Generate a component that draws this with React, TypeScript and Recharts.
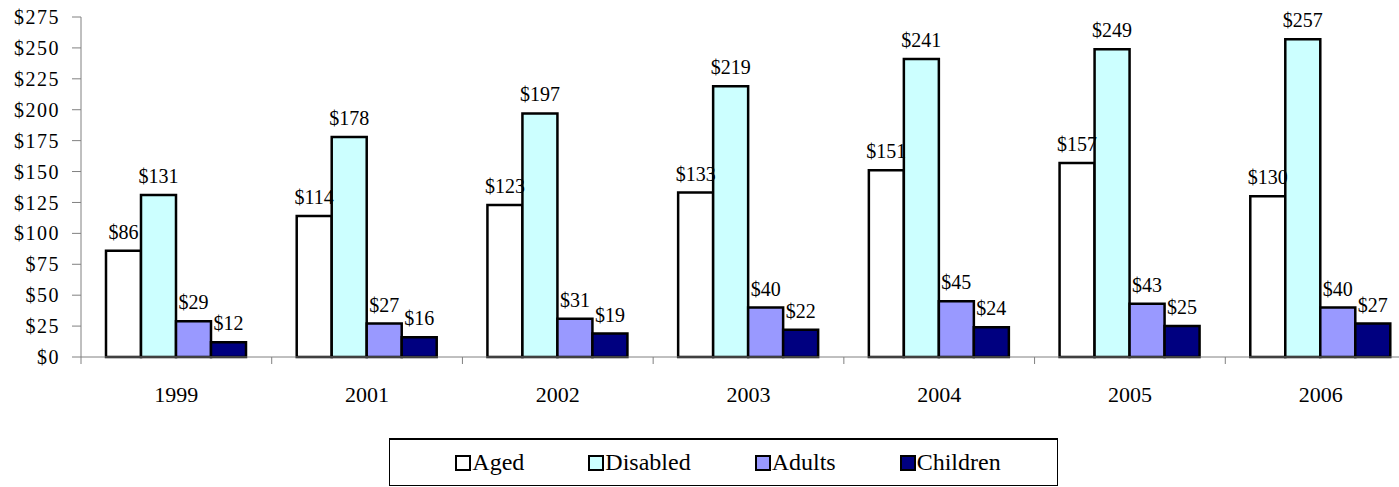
import { BarChart, Bar, XAxis, YAxis, Legend, LabelList } from "recharts";

const years = ["1999", "2001", "2002", "2003", "2004", "2005", "2006"];
const aged = [86, 114, 123, 133, 151, 157, 130];
const disabled = [131, 178, 197, 219, 241, 249, 257];
const adults = [29, 27, 31, 40, 45, 43, 40];
const children = [12, 16, 19, 22, 24, 25, 27];
const yTicks = [0, 25, 50, 75, 100, 125, 150, 175, 200, 225, 250, 275];

const series = [
  { key: "aged", name: "Aged", fill: "#ffffff" },
  { key: "disabled", name: "Disabled", fill: "#ccffff" },
  { key: "adults", name: "Adults", fill: "#9999ff" },
  { key: "children", name: "Children", fill: "#000080" },
];

const data = years.map((year, i) => ({
  year,
  aged: aged[i],
  disabled: disabled[i],
  adults: adults[i],
  children: children[i],
}));

const W = 1416;
const H = 487;
const margin = { top: 17, right: 0, bottom: 70, left: 0 };
const Y_W = 81;
const X_H = 60;
const step = (W - margin.left - margin.right - Y_W) / years.length;
const serif = '"Liberation Serif", "Times New Roman", serif';
const money = (v: any) => `$${v}`;

// year label in the middle, tick mark on the left edge of each category
function YearTick(props: any) {
  const { x, y, payload } = props;
  const bx = x - step / 2;
  return (
    <g>
      <line x1={bx} y1={y - 7} x2={bx} y2={y} stroke="#808080" strokeWidth={1} />
      <text x={x} y={y + 38} textAnchor="middle" fill="#000" fontSize={22} fontFamily={serif}>
        {payload.value}
      </text>
    </g>
  );
}

function LegendBox() {
  return (
    <div
      style={{
        display: "flex",
        justifyContent: "center",
        alignItems: "center",
        width: "100%",
        height: "100%",
        boxSizing: "border-box",
        border: "1px solid #000",
        borderTop: "2px solid #000",
        paddingLeft: 9,
        fontFamily: serif,
        fontSize: 24,
        color: "#000",
        background: "#fff",
      }}
    >
      {series.map((s, i) => (
        <span key={s.key} style={{ display: "flex", alignItems: "center", marginLeft: i ? 64 : 0 }}>
          <span
            style={{
              display: "inline-block",
              width: 12,
              height: 12,
              border: "2px solid #000",
              background: s.fill,
              marginRight: 1,
            }}
          />
          <span>{s.name}</span>
        </span>
      ))}
    </div>
  );
}

export default function App() {
  return (
    <div
      style={{
        position: "absolute",
        left: 0,
        top: 0,
        width: 1399,
        height: H,
        overflow: "hidden",
        background: "#fff",
      }}
    >
      <BarChart width={W} height={H} data={data} margin={margin} barGap={0} barCategoryGap={25}>
        <XAxis
          dataKey="year"
          height={X_H}
          tickSize={7}
          tickMargin={0}
          tickLine={false}
          axisLine={{ stroke: "#808080" }}
          tick={<YearTick />}
          interval={0}
        />
        <YAxis
          width={Y_W}
          domain={[0, 275]}
          ticks={yTicks}
          interval={0}
          tickFormatter={money}
          tickSize={9}
          tickMargin={12}
          axisLine={{ stroke: "#808080" }}
          tickLine={{ stroke: "#808080" }}
          tick={{ fill: "#000", fontSize: 20, fontFamily: serif, letterSpacing: 1.5 }}
        />
        <Legend
          verticalAlign="middle"
          align="center"
          wrapperStyle={{ left: 389, top: 438, width: 669, height: 48 }}
          content={() => <LegendBox />}
        />
        {series.map((s) => (
          <Bar
            key={s.key}
            dataKey={s.key}
            name={s.name}
            fill={s.fill}
            stroke="#000"
            strokeWidth={2.5}
            isAnimationActive={false}
          >
            <LabelList
              dataKey={s.key}
              position="top"
              offset={12}
              formatter={money}
              fill="#000"
              stroke="none"
              fontSize={20}
              fontFamily={serif}
            />
          </Bar>
        ))}
      </BarChart>
    </div>
  );
}
